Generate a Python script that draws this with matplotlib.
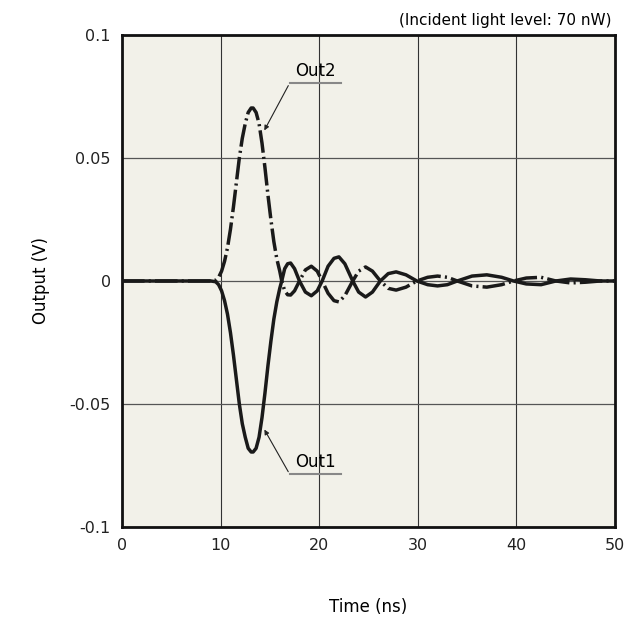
import matplotlib.pyplot as plt

# time axis samples (ns)
t = [0, 5, 9.0, 9.5, 9.8, 10.1, 10.4, 10.7, 11.0, 11.3, 11.6, 11.9, 12.2, 12.5,
     12.8, 13.1, 13.3, 13.6, 13.9, 14.2, 14.5, 14.8, 15.1, 15.4, 15.7, 16.0,
     16.2, 16.5, 16.8, 17.1, 17.5, 18.0, 18.6, 19.2, 19.8, 20.3, 20.9, 21.5,
     22.0, 22.6, 23.4, 24.0, 24.7, 25.4, 26.2, 27.0, 27.8, 28.8, 29.9, 31, 32,
     33, 34, 35.5, 37, 38.5, 39.7, 41, 42.5, 44, 45.5, 47, 48.5, 50]

out2 = [0, 0, 0, 0.0003, 0.0015, 0.004, 0.008, 0.0135, 0.021, 0.030, 0.040,
        0.050, 0.058, 0.064, 0.0685, 0.0703, 0.0703, 0.0685, 0.064, 0.056,
        0.046, 0.035, 0.025, 0.016, 0.009, 0.004, 0.0, -0.004, -0.0056,
        -0.0057, -0.004, 0.0, 0.0045, 0.006, 0.004, 0.0, -0.005, -0.008,
        -0.0085, -0.006, 0.0, 0.004, 0.0057, 0.004, 0.0, -0.003, -0.0037,
        -0.0025, 0.0, 0.0015, 0.002, 0.0015, 0.0, -0.002, -0.0025, -0.0015,
        0.0, 0.0012, 0.0015, 0.0, -0.0008, -0.0005, 0.0, 0.0]

out1 = [0, 0, 0, -0.0003, -0.0015, -0.004, -0.008, -0.0135, -0.021, -0.030,
        -0.040, -0.050, -0.058, -0.0635, -0.068, -0.0695, -0.0695, -0.068,
        -0.0635, -0.0555, -0.0455, -0.0345, -0.0245, -0.0155, -0.0085,
        -0.003, 0.0, 0.005, 0.007, 0.0073, 0.005, 0.0, -0.0045, -0.006,
        -0.004, 0.0, 0.006, 0.0092, 0.0098, 0.007, 0.0, -0.0045, -0.0065,
        -0.0045, 0.0, 0.003, 0.0037, 0.0025, 0.0, -0.0015, -0.002, -0.0015,
        0.0, 0.002, 0.0025, 0.0015, 0.0, -0.0012, -0.0015, 0.0, 0.0008,
        0.0005, 0.0, 0.0]

x_ticks = [0, 10, 20, 30, 40, 50]
y_ticks = [-0.1, -0.05, 0, 0.05, 0.1]
y_labels = ["-0.1", "-0.05", "0", "0.05", "0.1"]

fig = plt.figure(figsize=(6.38, 6.24), dpi=100)
ax = fig.add_axes([0.1912, 0.1554, 0.7728, 0.7886])
ax.set_facecolor("#f2f1e9")

ax.plot(t, out1, color="#1a1a1a", lw=2.5, solid_capstyle="round", zorder=3)
ax.plot(t, out2, color="#1a1a1a", lw=2.5, dashes=(6.5, 1.2, 0.6, 1.2), zorder=4)

ax.set_xlim(0, 50)
ax.set_ylim(-0.1, 0.1)
ax.set_xticks(x_ticks)
ax.set_xticklabels([str(v) for v in x_ticks])
ax.set_yticks(y_ticks)
ax.set_yticklabels(y_labels)
ax.tick_params(length=0, labelsize=11.5, pad=8, colors="#222")
ax.xaxis.grid(True, color="#333", lw=0.8, zorder=1)
ax.yaxis.grid(True, color="#555", lw=0.9, zorder=1)
ax.set_axisbelow(True)
for s in ax.spines.values():
    s.set_linewidth(2)
    s.set_color("#111")

ax.set_xlabel("Time (ns)", fontsize=12, labelpad=32)
ax.set_ylabel("Output (V)", fontsize=12, labelpad=14)
fig.text(0.959, 0.967, "(Incident light level: 70 nW)", ha="right",
         va="center", fontsize=11)

# labels with underline + leader arrow
arrow_kw = dict(arrowstyle="-|>", color="#222", lw=0.8, mutation_scale=7)
ax.annotate("", xy=(14.3, 0.0602), xytext=(17.0, 0.0804), arrowprops=arrow_kw)
ax.plot([17.0, 22.2], [0.0804, 0.0804], color="#888", lw=1.5, zorder=5)
ax.text(19.6, 0.0815, "Out2", ha="center", va="bottom", fontsize=12)

ax.annotate("", xy=(14.3, -0.0594), xytext=(17.0, -0.0785), arrowprops=arrow_kw)
ax.plot([17.0, 22.2], [-0.0785, -0.0785], color="#888", lw=1.5, zorder=5)
ax.text(19.6, -0.0774, "Out1", ha="center", va="bottom", fontsize=12)

fig.savefig("out.png", dpi=100)
